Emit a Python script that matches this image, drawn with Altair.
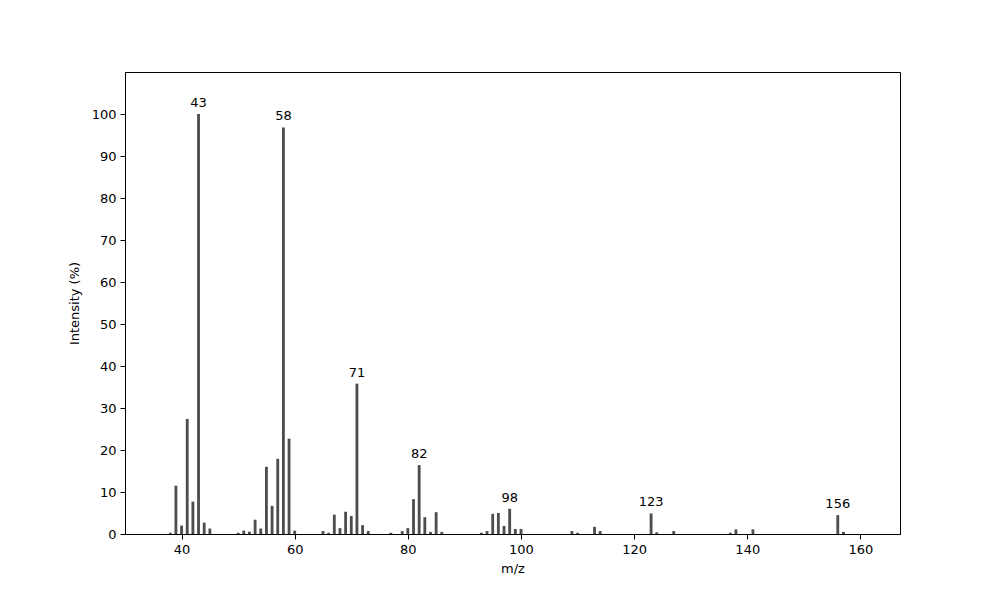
import altair as alt
import pandas as pd

mz = [38, 39, 40, 41, 42, 43, 44, 45,
      50, 51, 52, 53, 54, 55, 56, 57, 58, 59, 60,
      65, 66, 67, 68, 69, 70, 71, 72, 73,
      77, 79, 80, 81, 82, 83, 84, 85, 86,
      93, 94, 95, 96, 97, 98, 99, 100,
      109, 110, 113, 114,
      123, 124, 127, 137, 138, 141, 156, 157]
intensity = [0.3, 11.5, 2.0, 27.4, 7.7, 100.0, 2.7, 1.3,
             0.3, 0.8, 0.55, 3.4, 1.3, 16.0, 6.7, 17.9, 96.8, 22.7, 0.8,
             0.7, 0.3, 4.6, 1.4, 5.3, 4.3, 35.8, 2.1, 0.7,
             0.3, 0.7, 1.4, 8.3, 16.4, 4.0, 0.5, 5.2, 0.5,
             0.3, 0.7, 4.8, 5.0, 1.9, 6.0, 1.2, 1.2,
             0.7, 0.3, 1.7, 0.7,
             4.9, 0.4, 0.7, 0.3, 1.1, 1.1, 4.5, 0.5]
labeled_peaks = [43, 58, 71, 82, 98, 123, 156]

df = pd.DataFrame({"mz": mz, "intensity": intensity})
lab = df[df["mz"].isin(labeled_peaks)].copy()
lab["label"] = lab["mz"].astype(str)

xscale = alt.Scale(domain=[30, 167], nice=False, zero=False)
yscale = alt.Scale(domain=[0, 110], nice=False)

axis_common = dict(domainColor="black", tickColor="black", labelColor="black",
                   titleColor="black", labelFont="DejaVu Sans", titleFont="DejaVu Sans",
                   labelFontSize=13, titleFontSize=13, titleFontWeight="normal",
                   tickSize=5, labelPadding=4, grid=False, domainWidth=1)

bars = alt.Chart(df).transform_calculate(
    x1="datum.mz - 0.25", x2="datum.mz + 0.25"
).mark_rect(color="#4d4d4d").encode(
    x=alt.X("x1:Q", scale=xscale, title="m/z",
            axis=alt.Axis(values=[40, 60, 80, 100, 120, 140, 160], titlePadding=6, **axis_common)),
    x2="x2:Q",
    y=alt.Y("intensity:Q", scale=yscale, title="Intensity (%)",
            axis=alt.Axis(values=list(range(0, 101, 10)), titlePadding=10, **axis_common)),
    y2=alt.datum(0),
)

labels = alt.Chart(lab).mark_text(
    baseline="bottom", dy=-4, fontSize=13, font="DejaVu Sans", color="black"
).encode(
    x=alt.X("mz:Q", scale=xscale),
    y=alt.Y("intensity:Q", scale=yscale),
    text="label:N",
)

chart = alt.layer(bars, labels).properties(
    width=775, height=462,
    padding={"left": 117, "top": 64, "right": 80, "bottom": 60},
    autosize=alt.AutoSizeParams(type="none"),
    background="white",
).configure_view(stroke="black", strokeWidth=1)

chart.save("out.html", embed_options={"renderer": "svg", "actions": False})
